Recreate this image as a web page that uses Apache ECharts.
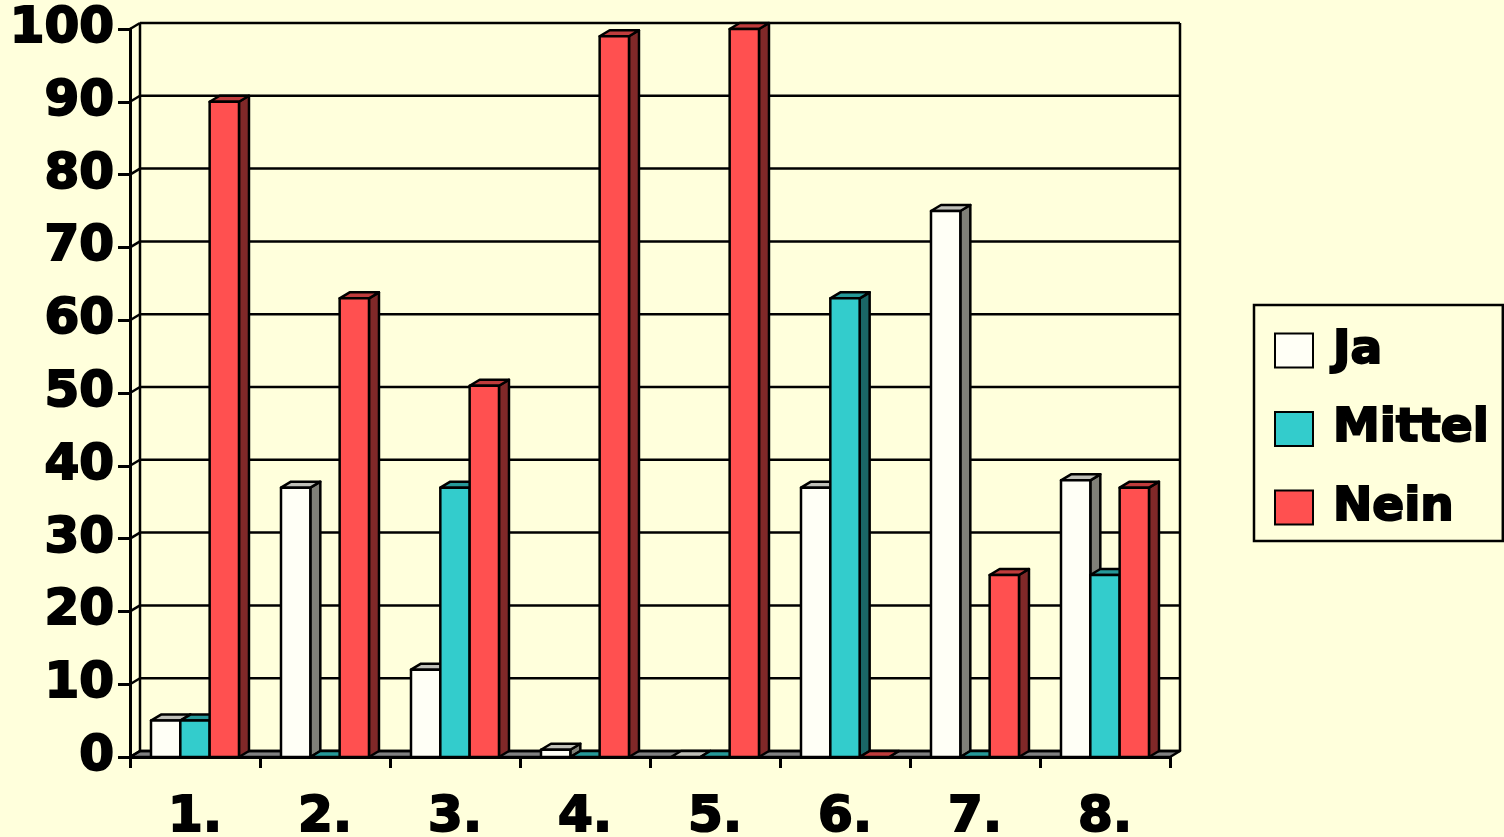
<!DOCTYPE html>
<html><head><meta charset="utf-8">
<style>html,body{margin:0;padding:0;background:#FFFFDC;overflow:hidden}#c{width:1504px;height:837px}</style>
<script src="https://cdn.jsdelivr.net/npm/echarts@6/dist/echarts.min.js"></script>
</head><body><div id="c"></div>
<script>
const categories = ['1.','2.','3.','4.','5.','6.','7.','8.'];
const ja     = [5,37,12,1,0,37,75,38];
const mittel = [5,0,37,0,0,63,0,25];
const nein   = [90,63,51,99,100,0,25,37];
const yTicks = [0,10,20,30,40,50,60,70,80,90,100];

const DX = 10, DY = -6, BG = '#FFFFDC';
const FONT = {fontFamily:'DejaVu Sans', fontWeight:'bold', color:'#000', textBorderColor:'#000', textBorderWidth:2};
const chart = echarts.init(document.getElementById('c'));

function poly(points, fill){
  return {type:'polygon', shape:{points}, style:{fill, stroke:'#000', lineWidth:2.5, lineJoin:'round'}};
}
function bar(seriesIdx, front, top, side){
  return function(params, api){
    const i = api.value(0), v = api.value(1);
    const band = api.size([1,0])[0];
    const w = band*0.2256, start = band*(-0.5+0.1615);
    const c = api.coord([i, v]), b = api.coord([i, 0]);
    const x0 = c[0]+start+seriesIdx*w, x1 = x0+w, yt = c[1], yb = b[1];
    const children = [];
    children.push(poly([[x1,yb],[x1+DX,yb+DY],[x1+DX,yt+DY],[x1,yt]], side));
    children.push(poly([[x0,yt],[x0+DX,yt+DY],[x1+DX,yt+DY],[x1,yt]], top));
    if (yb-yt>0.5) children.push(poly([[x0,yt],[x1,yt],[x1,yb],[x0,yb]], front));
    return {type:'group', children};
  };
}
function barSeries(name, data, idx, front, top, side){
  return {type:'custom', name, z:3, clip:false,
    data:data.map((v,i)=>[i,v]), encode:{x:0,y:1},
    itemStyle:{color:front, borderColor:'#000', borderWidth:2},
    renderItem:bar(idx, front, top, side)};
}
const walls = {type:'custom', name:'walls', z:1, silent:true, clip:false,
  data:yTicks.map(v=>[0,v]), encode:{x:0,y:1},
  renderItem(params, api){
    const v = api.value(1);
    const band = api.size([1,0])[0];
    const a = api.coord([0, v]);
    const L = a[0]-band/2, R = L+band*categories.length, y = a[1];
    const line = (x1,y1,x2,y2)=>({type:'line', shape:{x1,y1,x2,y2}, style:{stroke:'#000', lineWidth:2.5}});
    const ch = [line(L,y,L+DX,y+DY), line(L+DX,y+DY,R+DX,y+DY)];
    if (v===0){
      const t = api.coord([0,100])[1];
      ch.unshift(poly([[L,y],[L+DX,y+DY],[R+DX,y+DY],[R,y]], '#808080'));
      ch.push(line(L+DX,y+DY,L+DX,t+DY), line(R+DX,y+DY,R+DX,t+DY));
    }
    return {type:'group', children:ch};
  }};

chart.setOption({
  animation:false,
  backgroundColor:BG,
  grid:{left:130,right:334,top:29,bottom:80,outerBoundsMode:'none',containLabel:false},
  legend:{
    show:true, orient:'vertical', left:1254, top:305,
    data:[{name:'Ja',icon:'rect'},{name:'Mittel',icon:'rect'},{name:'Nein',icon:'rect'}],
    padding:[21,13,9,20], itemWidth:38, itemHeight:34, itemGap:29.5,
    borderColor:'#000', borderWidth:2.5, backgroundColor:BG,
    selectedMode:false,
    textStyle:{...FONT, fontSize:47, lineHeight:34, padding:[0,0,0,15]}
  },
  xAxis:{type:'category', data:categories, boundaryGap:true,
    axisLine:{show:true,lineStyle:{color:'#000',width:3}},
    axisTick:{show:true,length:11,alignWithLabel:false,lineStyle:{color:'#000',width:3}},
    axisLabel:{...FONT, fontSize:50, margin:36, interval:0},
    splitLine:{show:false}},
  yAxis:{type:'value', min:0, max:100, interval:10,
    axisLine:{show:true,lineStyle:{color:'#000',width:3}},
    axisTick:{show:true,length:12,lineStyle:{color:'#000',width:3}},
    axisLabel:{...FONT, fontSize:50, margin:16},
    splitLine:{show:false}},
  series:[
    walls,
    barSeries('Ja', ja, 0, '#FFFFF6', '#BFBFB8', '#808078'),
    barSeries('Mittel', mittel, 1, '#33CCCC', '#269999', '#1A6666'),
    barSeries('Nein', nein, 2, '#FF5050', '#BF3C3C', '#802828')
  ]
});
</script></body></html>
